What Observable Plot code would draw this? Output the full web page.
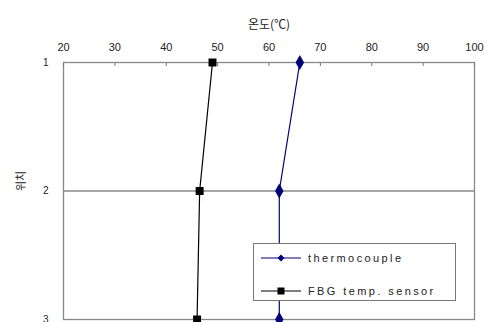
<!DOCTYPE html>
<html>
<head>
<meta charset="utf-8">
<script src="https://cdn.jsdelivr.net/npm/d3@7"></script>
<script src="https://cdn.jsdelivr.net/npm/@observablehq/plot@0.6"></script>
<style>
  html, body { margin: 0; padding: 0; background: #fff; }
  #chart { position: relative; width: 491px; height: 322px; overflow: hidden; }
  #legend {
    position: absolute; left: 253px; top: 243px; width: 203px; height: 58px;
    box-sizing: border-box; border: 1px solid #777; background: #fff;
    font-family: "Liberation Sans", Arial, sans-serif; font-size: 11px; color: #222;
    letter-spacing: 2.4px;
  }
  #legend .row { position: absolute; left: 7px; display: flex; align-items: center; white-space: nowrap; }
  #legend svg { margin-right: 7px; }
</style>
</head>
<body>
<div id="chart"></div>
<script>
// Temperature readings at each sensor position
const positions = [1, 2, 3];
const thermocouple = [66, 62, 62];
const fbgSensor = [49, 46.5, 46];
const seriesNames = ["thermocouple", "FBG temp. sensor"];
const xTicks = [20, 30, 40, 50, 60, 70, 80, 90, 100];
const yTicks = [1, 2, 3];
const xTitle = "온도(℃)";
const yTitle = "위치";

const colors = {thermocouple: "#00007a", "FBG temp. sensor": "#000000"};
const symbols = {thermocouple: "diamond", "FBG temp. sensor": "square"};

const rows = [
  ...positions.map((p, i) => ({series: seriesNames[0], pos: p, temp: thermocouple[i]})),
  ...positions.map((p, i) => ({series: seriesNames[1], pos: p, temp: fbgSensor[i]}))
];

const chart = Plot.plot({
  width: 491,
  height: 322,
  marginTop: 62,
  marginLeft: 63,
  marginRight: 17,
  marginBottom: 3,
  style: {fontFamily: "'Liberation Sans', Arial, sans-serif", fontSize: "11px", color: "#222", background: "#fff"},
  x: {domain: [20, 100]},
  y: {domain: [1, 3], reverse: true},
  marks: [
    Plot.frame({stroke: "#888", strokeWidth: 1.3}),
    Plot.ruleY([2], {stroke: "#888", strokeWidth: 1.3}),
    Plot.axisX(xTicks, {anchor: "top", tickSize: -3, tickPadding: 15, stroke: "#777", label: null}),
    Plot.axisY(yTicks, {anchor: "left", tickSize: 0, tickPadding: 15, tickFormat: d3.format("d"), fontSize: 10, label: null}),
    Plot.text([xTitle], {frameAnchor: "top", dy: -42, fontSize: 12, fontFamily: "'Noto Sans CJK KR', sans-serif", letterSpacing: 1.5}),
    Plot.text([yTitle], {frameAnchor: "left", dx: -42, rotate: -90, fontSize: 11, fontFamily: "'Noto Sans CJK KR', sans-serif"}),
    Plot.line(rows, {x: "temp", y: "pos", z: "series", stroke: d => colors[d.series], strokeWidth: 1.2}),
    Plot.dot(rows, {x: "temp", y: "pos", symbol: d => symbols[d.series], fill: d => colors[d.series], r: 4.5, stroke: "none"})
  ]
});
document.getElementById("chart").appendChild(chart);

// Boxed legend in the lower right of the plot area
const legend = document.createElement("div");
legend.id = "legend";
seriesNames.forEach((name, i) => {
  const row = document.createElement("div");
  row.className = "row";
  row.style.top = (i === 0 ? 8 : 41) + "px";
  const c = colors[name];
  const marker = symbols[name] === "diamond"
    ? `<path d="M20,1.5L23.5,5L20,8.5L16.5,5Z" fill="${c}"/>`
    : `<rect x="16.5" y="1.5" width="7" height="7" fill="${c}"/>`;
  row.innerHTML = `<svg width="40" height="10"><line x1="0" x2="40" y1="5" y2="5" stroke="${c}" stroke-width="1.2"/>${marker}</svg><span>${name}</span>`;
  legend.appendChild(row);
});
document.getElementById("chart").appendChild(legend);
</script>
</body>
</html>
